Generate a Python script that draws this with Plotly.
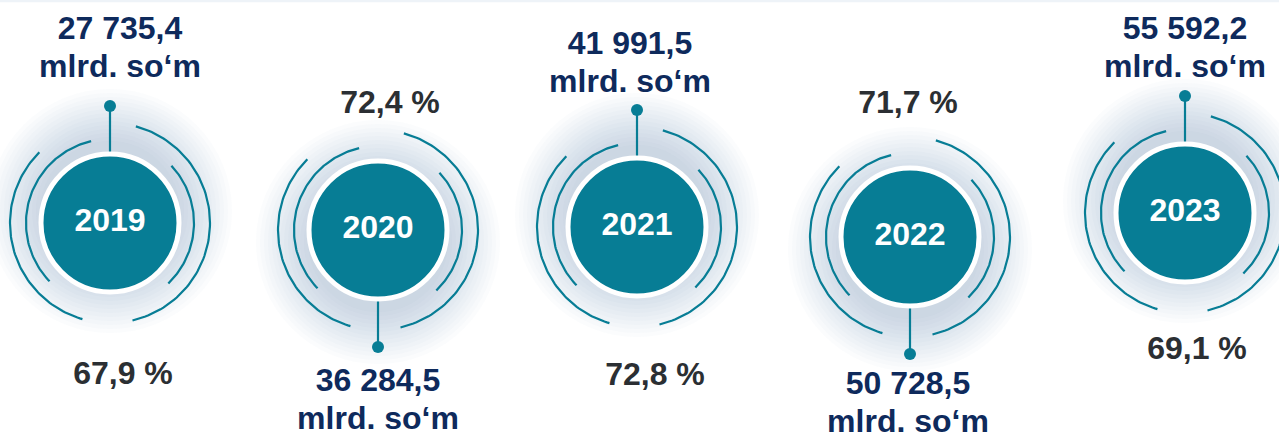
import numpy as np
import plotly.graph_objects as go

years = ["2019", "2020", "2021", "2022", "2023"]
volume_bn_som = [27735.4, 36284.5, 41991.5, 50728.5, 55592.2]
share_pct = [67.9, 72.4, 72.8, 71.7, 69.1]
unit = "mlrd. so‘m"

# layout (pixel space of the 1279x437 canvas)
W, H = 1279, 437
centre_x = [110, 378, 637, 910, 1185]
centre_y = [223, 230, 227, 237, 213]
value_dx = [10, 0, -7, -2, 0]
value_dy = [173, 172, 162, 168, 163]
share_dx = [13, 12, 18, -2, 12]
share_dy = [153, 125, 150, 132, 138]
LINE_GAP = 38

TEAL = "#077d95"
NAVY = "#0e2a5c"
GREY = "#2b2f33"
FONT = "Liberation Sans, Arial, sans-serif"

R_CIRCLE = 68
R_INNER = 84
R_OUTER = 100
R_PIN = 117
arcs = [  # (radius, start deg, end deg)
    (R_OUTER, 135, 254), (R_OUTER, -77, 75),
    (R_INNER, 103, 224), (R_INNER, -46, 43),
]


def fmt_num(v):
    s = f"{v:,.1f}"
    return s.replace(",", " ").replace(".", ",")


def label(x, y, txt, color, size=32):
    return go.Scatter(
        x=[x], y=[y], mode="text", text=[f"<b>{txt}</b>"],
        textposition="middle center",
        textfont=dict(family=FONT, size=size, color=color),
        hoverinfo="skip", showlegend=False)


fig = go.Figure()

for i, yr in enumerate(years):
    cx, cy = centre_x[i], centre_y[i]
    up = i % 2 == 0
    sign = -1 if up else 1

    # soft glow behind the circle, leaning toward the pin
    for k in range(14):
        r = 122 - k * 4
        fig.add_trace(go.Scatter(
            x=[cx], y=[cy + sign * 12], mode="markers",
            marker=dict(size=2 * r, color="#5e9fb0", opacity=0.028, line=dict(width=0)),
            hoverinfo="skip", showlegend=False))

    # arcs
    for r, a0, a1 in arcs:
        t = np.radians(np.linspace(a0, a1, 80))
        fig.add_trace(go.Scatter(
            x=cx + r * np.cos(t), y=cy - r * np.sin(t), mode="lines",
            line=dict(color=TEAL, width=2.2),
            hoverinfo="skip", showlegend=False))

    # pin
    fig.add_trace(go.Scatter(
        x=[cx, cx], y=[cy + sign * (R_CIRCLE - 2), cy + sign * R_PIN], mode="lines",
        line=dict(color=TEAL, width=2.2), hoverinfo="skip", showlegend=False))
    fig.add_trace(go.Scatter(
        x=[cx], y=[cy + sign * R_PIN], mode="markers",
        marker=dict(size=12, color=TEAL, line=dict(width=0)),
        hoverinfo="skip", showlegend=False))

    # main disc
    fig.add_trace(go.Scatter(
        x=[cx], y=[cy], mode="markers+text",
        marker=dict(size=2 * R_CIRCLE + 2, color=TEAL, line=dict(color="white", width=5)),
        text=[f"<b>{yr}</b>"], textposition="middle center",
        textfont=dict(family=FONT, size=32, color="white"),
        hoverinfo="skip", showlegend=False))

    # value (two lines) and share labels
    vx = cx + value_dx[i]
    vy = cy + sign * value_dy[i]
    fig.add_trace(label(vx, vy - LINE_GAP / 2, fmt_num(volume_bn_som[i]), NAVY))
    fig.add_trace(label(vx, vy + LINE_GAP / 2, unit, NAVY))
    fig.add_trace(label(cx + share_dx[i], cy - sign * share_dy[i],
                        f"{share_pct[i]:.1f} %".replace(".", ","), GREY))

fig.update_layout(
    width=W, height=H,
    margin=dict(l=0, r=0, t=0, b=0),
    paper_bgcolor="white", plot_bgcolor="white",
    xaxis=dict(range=[0, W], visible=False, fixedrange=True),
    yaxis=dict(range=[H, 0], visible=False, fixedrange=True),
    shapes=[dict(type="rect", xref="paper", yref="paper", x0=0, x1=1, y0=0.995, y1=1,
                 fillcolor="#eef3f8", line=dict(width=0), layer="below")],
)

fig.write_html("out.html", post_script="document.body.style.margin='0';",
               config={"displayModeBar": False})
